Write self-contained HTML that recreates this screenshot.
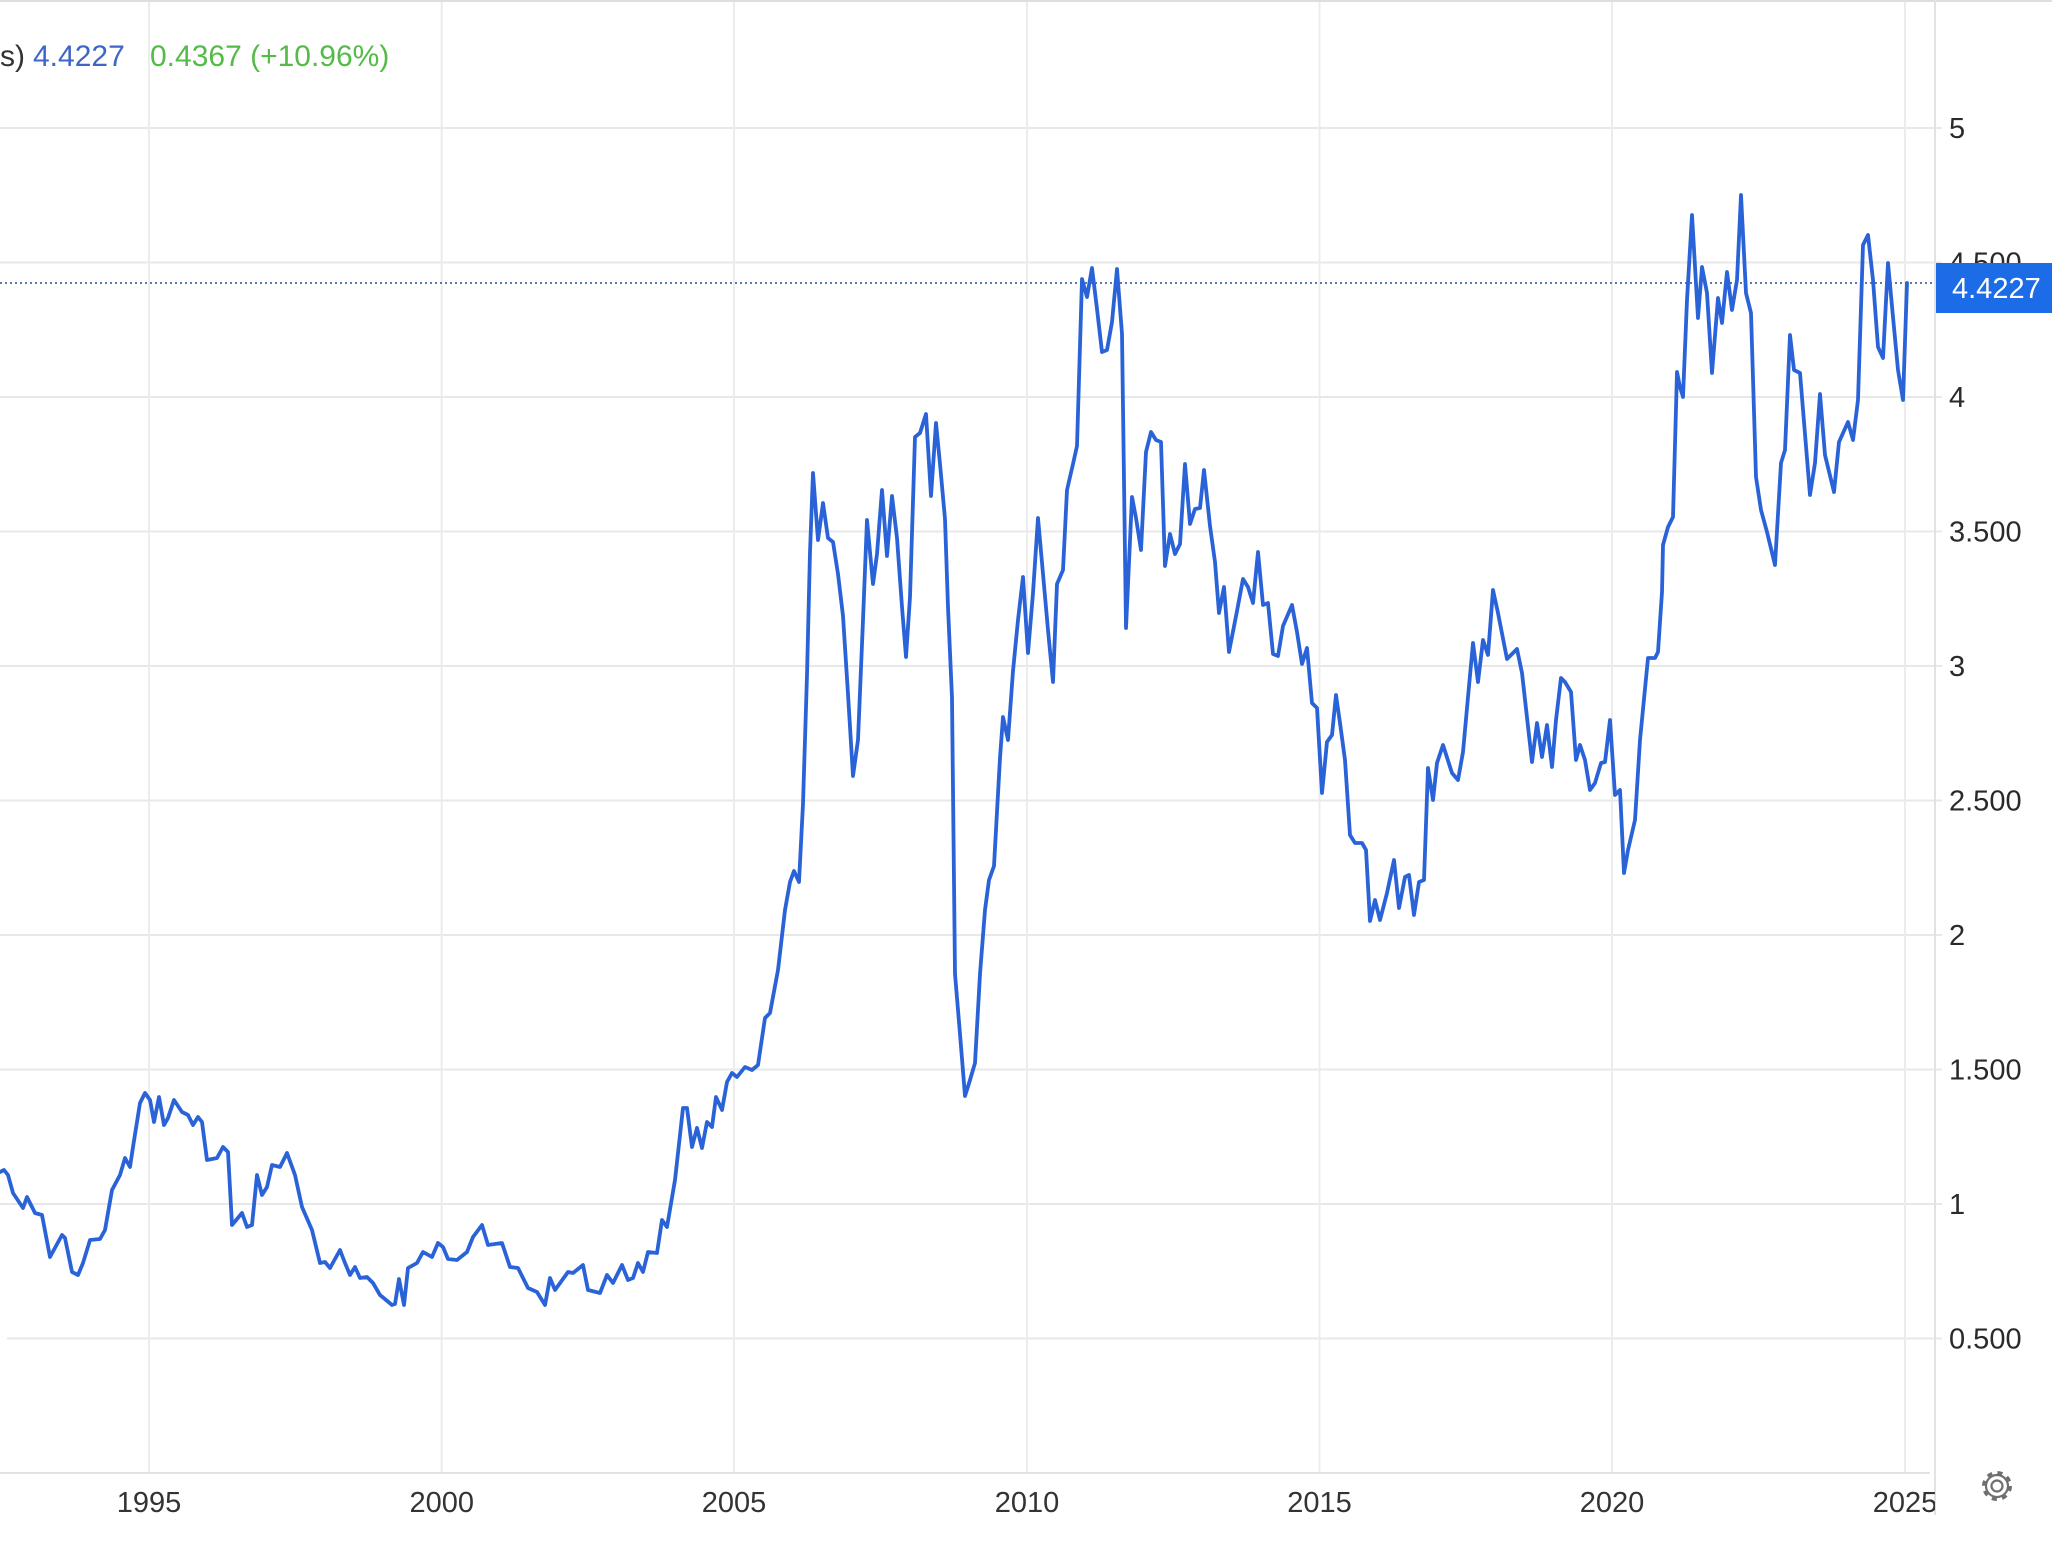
<!DOCTYPE html>
<html>
<head>
<meta charset="utf-8">
<style>
  html, body { margin: 0; padding: 0; background: #ffffff; }
  body { width: 2052px; height: 1546px; overflow: hidden; }
  svg { display: block; }
  text { font-family: "Liberation Sans", Arial, sans-serif; }
</style>
</head>
<body>
<svg width="2052" height="1546" viewBox="0 0 2052 1546" xmlns="http://www.w3.org/2000/svg">
  <defs>
    <clipPath id="xclip"><rect x="0" y="1476" width="1935" height="70"/></clipPath>
  </defs>
  <rect x="0" y="0" width="2052" height="1546" fill="#ffffff"/>
  <!-- top border -->
  <rect x="0" y="0" width="2052" height="2" fill="#dedede"/>

  <!-- horizontal gridlines -->
  <g stroke="#e8e8e8" stroke-width="2">
    <line x1="0" y1="128" x2="1942" y2="128"/>
    <line x1="0" y1="262.5" x2="1942" y2="262.5"/>
    <line x1="0" y1="397" x2="1942" y2="397"/>
    <line x1="0" y1="531.5" x2="1942" y2="531.5"/>
    <line x1="0" y1="666" x2="1942" y2="666"/>
    <line x1="0" y1="800.5" x2="1942" y2="800.5"/>
    <line x1="0" y1="935" x2="1942" y2="935"/>
    <line x1="0" y1="1069.5" x2="1942" y2="1069.5"/>
    <line x1="0" y1="1204" x2="1942" y2="1204"/>
    <line x1="7" y1="1338.5" x2="1942" y2="1338.5"/>
  </g>
  <!-- vertical gridlines -->
  <g stroke="#ececec" stroke-width="2">
    <line x1="149" y1="2" x2="149" y2="1473"/>
    <line x1="441.7" y1="2" x2="441.7" y2="1473"/>
    <line x1="734" y1="2" x2="734" y2="1473"/>
    <line x1="1027" y1="2" x2="1027" y2="1473"/>
    <line x1="1319.5" y1="2" x2="1319.5" y2="1473"/>
    <line x1="1612" y1="2" x2="1612" y2="1473"/>
    <line x1="1905" y1="2" x2="1905" y2="1473"/>
  </g>
  <!-- x axis line -->
  <line x1="0" y1="1473" x2="1930" y2="1473" stroke="#e2e2e2" stroke-width="2"/>
  <!-- right axis border -->
  <line x1="1935" y1="0" x2="1935" y2="1515" stroke="#e2e2e2" stroke-width="2"/>

  <!-- last price dotted line -->
  <line x1="0" y1="283" x2="1935" y2="283" stroke="#5b77ad" stroke-width="2" stroke-dasharray="2,3"/>

  <!-- series -->
  <polyline fill="none" stroke="#2a63d8" stroke-width="3.8" stroke-linejoin="round" stroke-linecap="round"
    points="0,1172 4,1170 8,1175 13,1193 23,1208 27,1197 35,1213 42,1215 50,1257 62,1235 65,1238 72,1272 78,1275 83,1263 90,1240 100,1239 105,1230 112,1190 120,1175 125,1158 130,1167 133,1147 140,1103 145,1093 150,1100 154,1122 159,1097 164,1125 168,1118 174,1100 182,1112 188,1115 193,1125 198,1117 202,1122 207,1160 217,1158 223,1147 228,1152 232,1225 242,1213 247,1227 252,1225 257,1175 262,1195 267,1187 272,1165 280,1167 287,1153 295,1175 302,1207 312,1230 320,1263 325,1262 330,1268 340,1250 345,1263 350,1275 355,1267 360,1278 367,1277 373,1283 380,1295 392,1305 395,1304 399,1279 404,1305 408,1268 417,1263 423,1252 432,1257 438,1243 443,1247 448,1259 457,1260 467,1252 473,1237 482,1225 488,1245 502,1243 510,1267 518,1268 528,1288 537,1292 545,1305 550,1278 555,1290 568,1272 573,1273 583,1265 588,1290 600,1293 607,1275 613,1283 622,1265 628,1280 633,1278 638,1263 643,1272 648,1252 657,1253 662,1220 667,1227 675,1180 683,1108 687,1108 692,1147 697,1128 702,1148 707,1122 712,1127 716,1097 722,1110 727,1082 732,1073 737,1077 745,1067 752,1070 758,1065 765,1018 770,1013 778,970 785,910 790,882 794,871 799,882 803,804 807,675 810,552 813,473 818,540 823,503 828,538 833,542 838,574 843,616 848,694 853,776 858,740 863,620 867,520 873,584 877,554 882,490 887,556 892,496 897,538 902,607 906,657 910,597 915,437 920,433 926,414 931,496 936,423 940,464 945,519 948,607 952,698 955,974 960,1034 965,1096 970,1080 975,1063 980,974 985,910 989,880 994,866 1000,758 1003,717 1008,740 1013,671 1018,620 1023,577 1028,653 1033,593 1038,518 1043,574 1048,630 1053,682 1057,584 1063,570 1067,490 1073,464 1077,446 1082,279 1087,297 1092,268 1097,309 1102,352 1107,350 1112,322 1117,269 1122,334 1126,628 1132,497 1136,518 1141,550 1146,452 1151,432 1156,440 1161,442 1165,566 1170,534 1175,554 1180,544 1185,464 1190,524 1195,509 1200,508 1204,470 1210,526 1215,562 1219,613 1224,587 1229,652 1237,611 1243,579 1248,587 1253,603 1258,552 1263,605 1268,603 1273,654 1278,656 1283,626 1292,605 1297,632 1302,664 1307,648 1312,703 1317,708 1322,793 1327,742 1332,735 1336,695 1340,723 1345,760 1350,835 1355,843 1362,843 1366,850 1370,921 1375,900 1380,920 1387,893 1394,860 1399,908 1405,877 1409,875 1414,915 1419,882 1424,880 1428,768 1433,800 1437,763 1443,745 1452,773 1458,780 1463,752 1468,697 1473,643 1478,682 1483,640 1488,655 1493,590 1498,613 1507,659 1517,649 1522,673 1532,762 1537,723 1542,757 1547,725 1552,767 1556,720 1561,678 1565,682 1571,692 1576,760 1580,745 1585,760 1590,790 1595,783 1601,763 1605,762 1610,720 1615,795 1620,790 1624,873 1628,850 1635,820 1640,740 1648,658 1655,658 1658,652 1662,592 1663,545 1668,527 1673,517 1677,372 1680,387 1683,397 1687,300 1692,215 1698,318 1702,267 1707,293 1712,373 1718,298 1722,323 1727,272 1732,310 1737,280 1741,195 1746,293 1751,313 1756,477 1761,510 1767,532 1775,565 1781,463 1785,450 1790,335 1794,370 1800,373 1810,495 1815,463 1820,394 1825,455 1834,492 1839,442 1848,422 1853,440 1858,400 1863,245 1868,235 1873,280 1878,347 1883,358 1888,263 1893,317 1898,370 1903,400 1907,283"/>

  <!-- y axis labels -->
  <g font-size="29" fill="#2a2a2a">
    <text x="1949" y="138">5</text>
    <text x="1949" y="272.5">4.500</text>
    <text x="1949" y="407">4</text>
    <text x="1949" y="541.5">3.500</text>
    <text x="1949" y="676">3</text>
    <text x="1949" y="810.5">2.500</text>
    <text x="1949" y="945">2</text>
    <text x="1949" y="1079.5">1.500</text>
    <text x="1949" y="1214">1</text>
    <text x="1949" y="1348.5">0.500</text>
  </g>

  <!-- price box -->
  <rect x="1936" y="263" width="116" height="50" fill="#1c6ce8"/>
  <text x="1952" y="298" font-size="29" fill="#ffffff">4.4227</text>

  <!-- x axis labels -->
  <g font-size="29" fill="#333333" text-anchor="middle" clip-path="url(#xclip)">
    <text x="149" y="1512">1995</text>
    <text x="441.7" y="1512">2000</text>
    <text x="734" y="1512">2005</text>
    <text x="1027" y="1512">2010</text>
    <text x="1319.5" y="1512">2015</text>
    <text x="1612" y="1512">2020</text>
    <text x="1905" y="1512">2025</text>
  </g>

  <!-- legend -->
  <text x="0" y="66" font-size="30" fill="#333333">s)</text>
  <text x="33" y="66" font-size="30" fill="#3d66c8">4.4227</text>
  <text x="150" y="66" font-size="30" fill="#55bb48">0.4367 (+10.96%)</text>

  <!-- gear icon -->
  <g transform="translate(1997,1486)" fill="none" stroke="#6f6f6f">
    <circle r="13" stroke-width="4" stroke-dasharray="5,5.21"/>
    <circle r="11" stroke-width="2.2"/>
    <circle r="5.5" stroke-width="2.2"/>
  </g>
</svg>
</body>
</html>
